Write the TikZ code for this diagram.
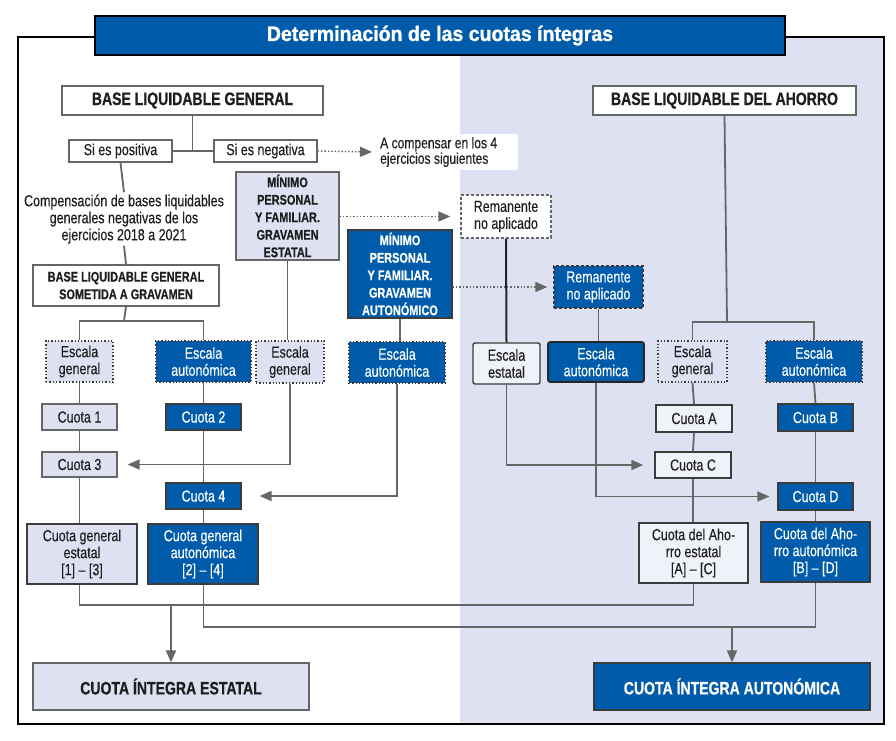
\documentclass[tikz,border=0pt]{standalone}
\usepackage{fontspec}
\setmainfont{Liberation Sans}[FakeStretch=0.78, FakeBold=0.25]
\newfontfamily\bfcond{Liberation Sans}[FakeStretch=0.78, BoldFeatures={FakeBold=0.6}]
\newfontfamily\titlecond{Liberation Sans}[FakeStretch=0.93, BoldFeatures={FakeBold=1.2}]
\usetikzlibrary{arrows.meta}
\definecolor{azul}{RGB}{0,92,170}
\definecolor{lav}{RGB}{221,225,242}
\definecolor{pale}{RGB}{240,242,250}
\definecolor{lgray}{RGB}{102,102,102}
\definecolor{dgray}{RGB}{60,60,60}
\definecolor{ink}{RGB}{30,30,30}
\newcommand\reg{\fontsize{16}{17}\selectfont}
\newcommand\bsm{\bfcond\bfseries\fontsize{14}{17.5}\selectfont}
\newcommand\blg{\bfcond\bfseries\fontsize{18}{20}\selectfont}
\newcommand\bx[7]{\node[#6, minimum width={(#4)-(#2)}, minimum height={(#5)-(#3)}] (#1) at ({((#2)+(#4))/2},{((#3)+(#5))/2}) {#7};}
\tikzset{
  base/.style={inner sep=0pt, align=center, font=\reg, text=ink},
  whitebox/.style={base, draw=lgray, line width=1.3pt, fill=white},
  lightbox/.style={base, draw=dgray, line width=1.3pt, fill=lav},
  palebox/.style={base, draw=dgray, line width=1.4pt, fill=pale},
  bluebox/.style={base, draw=dgray, line width=1.2pt, fill=azul, text=white},
  dotlight/.style={base, draw=dgray, line width=1.3pt, dotted, fill=lav},
  dotblue/.style={base, draw=dgray, line width=1.3pt, dotted, fill=azul, text=white},
  dashwhite/.style={base, draw=lgray, line width=1.3pt, dash pattern=on 3pt off 2pt, fill=white},
  dashblue/.style={base, draw=dgray, line width=1.3pt, dash pattern=on 3pt off 2pt, fill=azul, text=white},
  conn/.style={draw=lgray, line width=1.8pt},
  arr/.style={conn, -{Triangle[length=12pt,width=10pt]}},
  dotarr/.style={draw=lgray, line width=1.4pt, dotted, -{Triangle[length=12pt,width=10pt]}},
}
\begin{document}
\begin{tikzpicture}[x=1pt,y=-1pt]
\useasboundingbox (0,0) rectangle (896,740);
\fill[white] (0,0) rectangle (896,740);
% shaded right half
\fill[lav] (460,37) rectangle (884,724);
% frame
\draw[black, line width=2.2pt] (18,37) rectangle (884,724);
% title
\bx{title}{95}{16}{785}{55}{base, draw=black, line width=2pt, fill=azul, text=white, font=\titlecond\bfseries\fontsize{21}{22}\selectfont}{Determinación de las cuotas íntegras}

% top left
\bx{blg}{62}{86}{323}{115}{whitebox, font=\blg}{BASE LIQUIDABLE GENERAL}
\bx{pos}{69}{140}{172}{162}{whitebox}{Si es positiva}
\bx{neg}{214}{140}{317}{162}{whitebox}{Si es negativa}
\node[base, fill=white, anchor=west, inner xsep=8pt, inner ysep=3pt, font=\fontsize{15.5}{15.5}\selectfont] (comp) at (372,152) {\parbox{130pt}{\raggedright A compensar en los 4\\ejercicios siguientes}};
\node[base, fill=white, inner sep=2pt] (comptxt) at (124,219) {Compensación de bases liquidables\\generales negativas de los\\ejercicios 2018 a 2021};
\bx{blgs}{33}{265}{219}{306}{whitebox, font=\bsm}{BASE LIQUIDABLE GENERAL\\SOMETIDA A GRAVAMEN}
\bx{mpfE}{236}{172}{339}{260}{lightbox, draw=lgray, font=\bsm}{MÍNIMO\\PERSONAL\\Y FAMILIAR.\\GRAVAMEN\\ESTATAL}
\bx{mpfA}{348}{230}{452}{318}{bluebox, font=\bsm}{MÍNIMO\\PERSONAL\\Y FAMILIAR.\\GRAVAMEN\\AUTONÓMICO}
\bx{rem1}{461}{195}{551}{238}{dashwhite}{Remanente\\no aplicado}
\bx{rem2}{554}{266}{643}{308}{dashblue}{Remanente\\no aplicado}

% escalas row
\bx{egL}{46}{341}{113}{382}{dotlight}{Escala\\general}
\bx{eaL}{156}{341}{251}{382}{dotblue}{Escala\\autonómica}
\bx{egM}{256}{341}{324}{383}{dotlight}{Escala\\general}
\bx{eaM}{349}{342}{445}{383}{dotblue}{Escala\\autonómica}
\bx{ee}{473}{343}{540}{384}{palebox, rounded corners=2pt}{Escala\\estatal}
\bx{eaR1}{548}{342}{644}{382}{bluebox, draw=black!85, line width=1.6pt, rounded corners=2pt}{Escala\\autonómica}
\bx{egR}{658}{341}{727}{382}{dotlight}{Escala\\general}
\bx{eaR}{766}{341}{862}{382}{dotblue}{Escala\\autonómica}

% cuotas
\bx{c1}{42}{404}{117}{430}{lightbox, draw=lgray}{Cuota 1}
\bx{c2}{166}{404}{241}{430}{bluebox}{Cuota 2}
\bx{c3}{42}{452}{117}{477}{lightbox, draw=lgray}{Cuota 3}
\bx{c4}{166}{483}{241}{509}{bluebox}{Cuota 4}
\bx{cA}{656}{405}{732}{432}{palebox}{Cuota A}
\bx{cB}{778}{404}{853}{431}{bluebox}{Cuota B}
\bx{cC}{655}{452}{731}{478}{palebox}{Cuota C}
\bx{cD}{778}{483}{853}{510}{bluebox}{Cuota D}

\bx{cge}{27}{524}{137}{584}{lightbox}{Cuota general\\estatal\\{[1]} – [3]}
\bx{cga}{148}{524}{258}{584}{bluebox}{Cuota general\\autonómica\\{[2]} – [4]}
\bx{cae}{639}{523}{748}{583}{palebox}{Cuota del Aho-\\rro estatal\\{[A]} – [C]}
\bx{caa}{761}{522}{870}{582}{bluebox}{Cuota del Aho-\\rro autonómica\\{[B]} – [D]}

\bx{cie}{33}{663}{309}{710}{lightbox, draw=lgray, font=\blg}{CUOTA ÍNTEGRA ESTATAL}
\bx{cia}{594}{663}{870}{710}{bluebox, font=\blg}{CUOTA ÍNTEGRA AUTONÓMICA}

\bx{bla}{593}{86}{856}{115}{whitebox, font=\blg}{BASE LIQUIDABLE DEL AHORRO}

% connectors top left
\draw[conn] (blg.south) -- (blg.south |- pos.east);
\draw[conn] (pos.east) -- (neg.west);
\draw[dotarr] (neg.east) -- (comp.west);
\draw[conn] (pos.south) -- (comptxt.north);
\draw[conn] (comptxt.south) -- (blgs.north);
\coordinate (j1) at (124,321);
\draw[conn] (blgs.south) -- (j1);
\draw[conn] (egL.north) |- (j1) -| (eaL.north);
\draw[conn] (egL.south) -- (c1.north);
\draw[conn] (c1.south) -- (c3.north);
\draw[conn] (c3.south) -- (c3.south |- cge.north);
\draw[conn] (eaL.south) -- (c2.north);
\draw[conn] (c2.south) -- (c4.north);
\draw[conn] (c4.south) -- (c4.south |- cga.north);
% minimo
\draw[conn] (mpfE.south) -- (mpfE.south |- egM.north);
\draw[arr, shorten >=10pt] (egM.south) |- (c3.east);
\draw[conn] (mpfA.south) -- (mpfA.south |- eaM.north);
\draw[arr, shorten >=18pt] (eaM.south) |- (c4.east);
\draw[dotarr, shorten >=10pt] (mpfE.east |- rem1.west) -- (rem1.west);
\draw[dotarr, shorten >=6pt] (mpfA.east |- rem2.west) -- (rem2.west);
% remanentes
\draw[draw=black!85, line width=2pt] (rem1.south) -- (ee.north);
\draw[conn] (rem2.south) -- (rem2.south |- eaR1.north);
\draw[arr, shorten >=11pt] (ee.south) |- (cC.west);
\draw[arr, shorten >=8pt] (eaR1.south) |- (cD.west);
% ahorro
\coordinate (j2) at (727,322);
\draw[conn] (bla.south) -- (j2);
\draw[conn] (egR.north) |- (j2) -| (eaR.north);
\draw[conn] (egR.south) -- (cA.north);
\draw[conn] (cA.south) -- (cC.north);
\draw[conn] (cC.south) -- (cC.south |- cae.north);
\draw[conn] (eaR.south) -- (cB.north);
\draw[conn] (cB.south) -- (cD.north);
\draw[conn] (cD.south) -- (cD.south |- caa.north);
% bottom
\coordinate (j3) at (171,605);
\coordinate (j4) at (732,627);
\draw[conn] (c3.south |- cge.south) |- (j3) -| (cae.south);
\draw[arr] (j3) -- (cie.north);
\draw[conn] (c4.south |- cga.south) |- (j4) -| (caa.south);
\draw[arr] (j4) -- (cia.north);
\end{tikzpicture}
\end{document}
